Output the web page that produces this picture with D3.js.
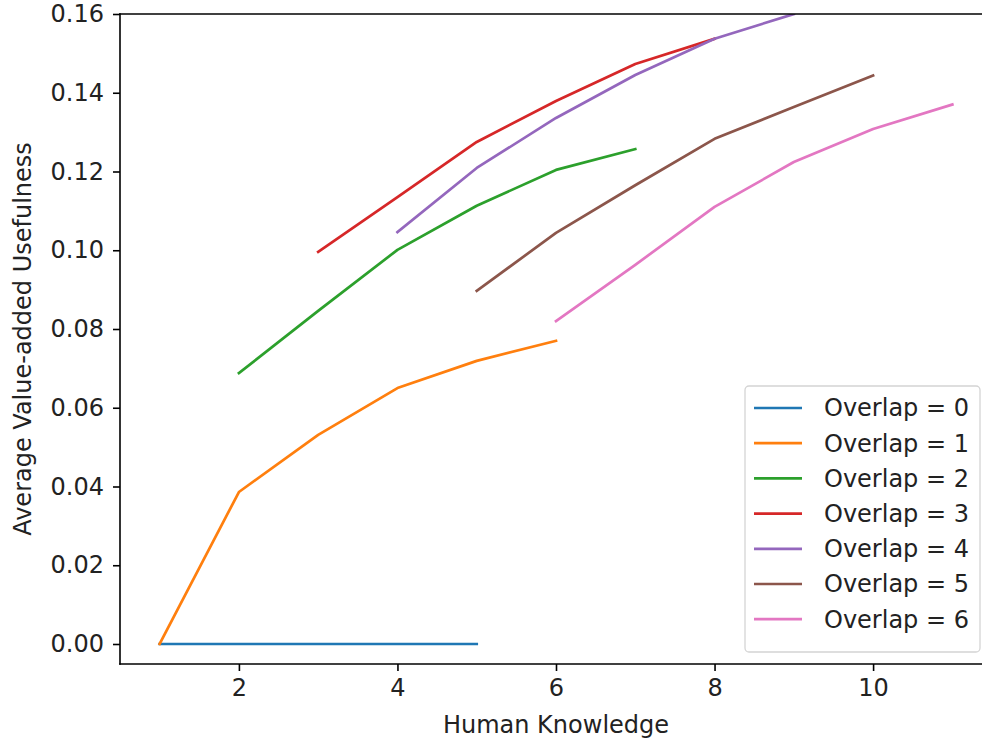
<!DOCTYPE html>
<html>
<head>
<meta charset="utf-8">
<script src="https://cdn.jsdelivr.net/npm/d3@7"></script>
<style>
  html, body { margin: 0; padding: 0; background: #fff; overflow: hidden; }
  svg { display: block; font-family: "DejaVu Sans", sans-serif; overflow: hidden; }
</style>
</head>
<body>
<svg id="chart" width="982" height="741"></svg>
<script>
// ---- data ----
const seriesNames = ["Overlap = 0", "Overlap = 1", "Overlap = 2", "Overlap = 3", "Overlap = 4", "Overlap = 5", "Overlap = 6"];
const seriesColors = ["#1f77b4", "#ff7f0e", "#2ca02c", "#d62728", "#9467bd", "#8c564b", "#e377c2"];
const overlap0X = [1, 2, 3, 4, 5];
const overlap0Y = [0, 0, 0, 0, 0];
const overlap1X = [1, 2, 3, 4, 5, 6];
const overlap1Y = [0, 0.0386, 0.0531, 0.065, 0.0719, 0.077];
const overlap2X = [2, 3, 4, 5, 6, 7];
const overlap2Y = [0.0688, 0.0846, 0.1001, 0.1113, 0.1204, 0.1257];
const overlap3X = [3, 4, 5, 6, 7, 8];
const overlap3Y = [0.0996, 0.1135, 0.1275, 0.1379, 0.1473, 0.1537];
const overlap4X = [4, 5, 6, 7, 8, 9];
const overlap4Y = [0.1046, 0.1209, 0.1336, 0.1445, 0.1537, 0.1600];
const overlap5X = [5, 6, 7, 8, 9, 10];
const overlap5Y = [0.0897, 0.1044, 0.1165, 0.1283, 0.1364, 0.1444];
const overlap6X = [6, 7, 8, 9, 10, 11];
const overlap6Y = [0.0820, 0.0963, 0.1110, 0.1224, 0.1308, 0.1370];
const xTicks = [2, 4, 6, 8, 10];
const yTicks = [0, 0.02, 0.04, 0.06, 0.08, 0.10, 0.12, 0.14, 0.16];
const xLabel = "Human Knowledge";
const yLabel = "Average Value-added Usefulness";

const allX = [overlap0X, overlap1X, overlap2X, overlap3X, overlap4X, overlap5X, overlap6X];
const allY = [overlap0Y, overlap1Y, overlap2Y, overlap3Y, overlap4Y, overlap5Y, overlap6Y];
const series = seriesNames.map((name, i) => ({
  name, color: seriesColors[i],
  points: allX[i].map((x, j) => ({ x, y: allY[i][j] }))
}));

// ---- layout ----
const svg = d3.select("#chart");
const mLeft = 120, mRight = 992, mTop = 14, mBottom = 664;
const FS = 24;

const x = d3.scaleLinear().domain([0.5, 11.5]).range([mLeft, mRight]);
const y = d3.scaleLinear().domain([-0.00508, 0.16]).range([mBottom, mTop]);

svg.append("defs").append("clipPath").attr("id", "clip")
  .append("rect").attr("x", mLeft).attr("y", mTop).attr("width", mRight - mLeft).attr("height", mBottom - mTop);

// lines
const line = d3.line().x(d => x(d.x)).y(d => y(d.y));
const gLines = svg.append("g").attr("clip-path", "url(#clip)");
series.forEach(s => {
  gLines.append("path").datum(s.points)
    .attr("d", line)
    .attr("fill", "none")
    .attr("stroke", s.color)
    .attr("stroke-width", 2.7)
    .attr("stroke-linecap", "square")
    .attr("stroke-linejoin", "round");
});

// spines (right spine lies outside the visible area)
const spine = (x1, y1, x2, y2) => svg.append("line")
  .attr("x1", x1).attr("y1", y1).attr("x2", x2).attr("y2", y2)
  .attr("stroke", "#000").attr("stroke-width", 1.6).attr("stroke-linecap", "square");
spine(mLeft, mTop, mLeft, mBottom);
spine(mLeft, mBottom, mRight, mBottom);
spine(mLeft, mTop, mRight, mTop);

// axes
const xAxis = d3.axisBottom(x).tickValues(xTicks).tickFormat(d3.format("d")).tickSize(7).tickPadding(8);
const gx = svg.append("g").attr("transform", `translate(0,${mBottom})`).call(xAxis);
gx.select(".domain").remove();
gx.selectAll("line").attr("stroke", "#000").attr("stroke-width", 1.6);
gx.selectAll("text").attr("font-size", FS).attr("fill", "#222").attr("font-family", "DejaVu Sans");

const yAxis = d3.axisLeft(y).tickValues(yTicks).tickFormat(d3.format(".2f")).tickSize(7).tickPadding(9);
const gy = svg.append("g").attr("transform", `translate(${mLeft},0)`).call(yAxis);
gy.select(".domain").remove();
gy.selectAll("line").attr("stroke", "#000").attr("stroke-width", 1.6);
gy.selectAll("text").attr("font-size", FS).attr("fill", "#222").attr("font-family", "DejaVu Sans");

// axis labels
svg.append("text").attr("x", (mLeft + mRight) / 2).attr("y", 733)
  .attr("text-anchor", "middle").attr("font-size", FS).attr("fill", "#222").text(xLabel);
svg.append("text").attr("transform", `translate(31,${(mTop + mBottom) / 2}) rotate(-90)`)
  .attr("text-anchor", "middle").attr("font-size", FS).attr("fill", "#222").text(yLabel);

// legend
const lg = svg.append("g");
const lx = 745, ly = 386, lw = 235, lh = 266;
lg.append("rect").attr("x", lx).attr("y", ly).attr("width", lw).attr("height", lh)
  .attr("rx", 4).attr("fill", "#fff").attr("fill-opacity", 0.8)
  .attr("stroke", "#d4d4d4").attr("stroke-width", 1.3);
series.forEach((s, i) => {
  const yy = 408 + i * 35.2;
  lg.append("line").attr("x1", 754).attr("x2", 802).attr("y1", yy).attr("y2", yy)
    .attr("stroke", s.color).attr("stroke-width", 2.7);
  lg.append("text").attr("x", 824).attr("y", yy).attr("dy", "0.35em")
    .attr("font-size", FS).attr("fill", "#222").text(s.name);
});
</script>
</body>
</html>
